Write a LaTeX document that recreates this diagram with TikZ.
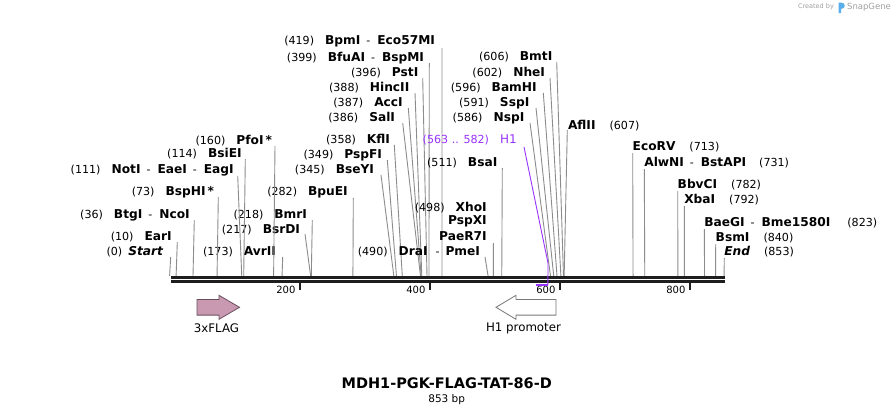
\documentclass[tikz,border=0pt]{standalone}
\usepackage{fontspec}
\setmainfont{DejaVu Sans}
\definecolor{cutgray}{RGB}{140,140,140}
\definecolor{bbk}{RGB}{30,30,30}
\definecolor{hpurple}{RGB}{153,51,255}
\definecolor{flagfill}{RGB}{201,153,178}
\definecolor{flagdraw}{RGB}{105,80,95}
\definecolor{promdraw}{RGB}{120,120,120}
\definecolor{sgblue}{RGB}{90,175,235}
\definecolor{sggray}{RGB}{160,160,160}
\newcommand\pn[1]{{\fontsize{11.1}{13}\selectfont(#1)}}
\newcommand\en[1]{{\fontsize{12.2}{14}\selectfont\bfseries #1}}
\newcommand\ds{\hspace{6pt}{\fontsize{11}{13}\selectfont-}\hspace{7pt}}
\newcommand\gp{\hspace{11pt}}
\newcommand\enzL[7]{%
 \node[lab,anchor=base east] (#1) at (#2,#3+4.2) {#4};
 \coordinate (#1-a) at (#5,#6);
 \coordinate (#1-b) at ({169.6+0.65*#7},276);
 \draw[cut] (#1-a) -- (#1-b);}
\newcommand\enzR[7]{%
 \node[lab,anchor=base west] (#1) at (#2,#3+4.2) {#4};
 \coordinate (#1-a) at (#5,#6);
 \coordinate (#1-b) at ({169.6+0.65*#7},276);
 \draw[cut] (#1-a) -- (#1-b);}
\tikzset{
 lab/.style={inner sep=0pt,outer sep=0pt,text=black},
 cut/.style={draw=cutgray,line width=0.9pt},
 bb/.style={draw=bbk,line width=2.6pt},
 tickmark/.style={draw=bbk,line width=2pt},
 ticklab/.style={inner sep=0pt,anchor=base east,font=\fontsize{10}{12}\selectfont},
 featlab/.style={inner sep=0pt,font=\fontsize{11.8}{14}\selectfont},
}
\begin{document}
\begin{tikzpicture}[x=1pt,y=-1pt]
\fill[white] (0,0) rectangle (896,415);
\useasboundingbox (0,0) rectangle (896,415);
% SnapGene mark
\node[inner sep=0pt,text=sggray,font=\fontsize{6.5}{8}\selectfont] (cby) at (816,7) {Created by};
\fill[sgblue] (838.5,2.5) rectangle (841,13) (841,2.5) .. controls (846,2.5) and (846,9) .. (841,9) -- cycle;
\node[inner sep=0pt,text=sggray,font=\fontsize{8.5}{10}\selectfont] (sg) at (869,7.5) {SnapGene};
% cut sites
\enzL{bpmi}{435}{40.7}{\pn{419}\gp\en{BpmI}\ds\en{Eco57MI}}{442}{48}{419}
\enzL{bfuai}{424}{57.3}{\pn{399}\gp\en{BfuAI}\ds\en{BspMI}}{429.3}{63}{399}
\enzL{psti}{418.3}{72.3}{\pn{396}\gp\en{PstI}}{422.7}{78}{396}
\enzL{hincii}{409.3}{87.3}{\pn{388}\gp\en{HincII}}{415}{93}{388}
\enzL{acci}{402.7}{102.3}{\pn{387}\gp\en{AccI}}{408.3}{108}{387}
\enzL{sali}{395}{117.3}{\pn{386}\gp\en{SalI}}{402.7}{123}{386}
\enzL{kfli}{390}{139}{\pn{358}\gp\en{KflI}}{394.3}{145}{358}
\enzL{pspfi}{382}{154}{\pn{349}\gp\en{PspFI}}{387.3}{160}{349}
\enzL{bseyi}{374}{169}{\pn{345}\gp\en{BseYI}}{381}{175}{345}
\enzL{bpuei}{347.7}{191.7}{\pn{282}\gp\en{BpuEI}}{353.3}{198}{282}
\enzL{bmri}{307}{214}{\pn{218}\gp\en{BmrI}}{312.3}{220}{218}
\enzL{bsrdi}{300}{229}{\pn{217}\gp\en{BsrDI}}{305}{234}{217}
\enzL{avrii}{276}{251.3}{\pn{173}\gp\en{AvrII}}{282.7}{257}{173}
\enzL{pfoi}{272}{140.7}{\pn{160}\gp\en{PfoI\,*}}{275}{146}{160}
\enzL{bsiei}{241.7}{153.3}{\pn{114}\gp\en{BsiEI}}{245.3}{159}{114}
\enzL{noti}{233.7}{169}{\pn{111}\gp\en{NotI}\ds\en{EaeI}\ds\en{EagI}}{237.7}{176}{111}
\enzL{bsphi}{214}{191.7}{\pn{73}\gp\en{BspHI\,*}}{218.3}{197}{73}
\enzL{btgi}{189.7}{214}{\pn{36}\gp\en{BtgI}\ds\en{NcoI}}{194.3}{220}{36}
\enzL{eari}{171.7}{236.7}{\pn{10}\gp\en{EarI}}{177.3}{242}{10}
\enzL{start}{163}{251.3}{\pn{0}\hspace{6pt}\en{\itshape Start}}{170.7}{257}{0}
\enzL{bsai}{497.3}{162.3}{\pn{511}\gp\en{BsaI}}{502.3}{168}{511}
\node[lab,anchor=base east] (xhoi) at (486.7,207.3+4.2) {\pn{498}\gp\en{XhoI}};
\node[lab,anchor=base east] (pspxi) at (486.7,220.7+4.2) {\en{PspXI}};
\enzL{paer}{486.7}{236.7}{\en{PaeR7I}}{493.3}{243}{498}
\enzL{drai}{480}{251.7}{\pn{490}\gp\en{DraI}\hspace{8pt}{\fontsize{11}{13}\selectfont-}\hspace{6pt}\en{PmeI}}{485}{257}{490}
\enzL{bmti}{552.3}{56}{\pn{606}\gp\en{BmtI}}{556.7}{62}{606}
\enzL{nhei}{545}{72.3}{\pn{602}\gp\en{NheI}}{550}{78}{602}
\enzL{bamhi}{536.7}{87.3}{\pn{596}\gp\en{BamHI}}{543.3}{93}{596}
\enzL{sspi}{529.3}{102.3}{\pn{591}\gp\en{SspI}}{536}{108}{591}
\enzL{nspi}{524.3}{117.3}{\pn{586}\gp\en{NspI}}{530}{123}{586}
\enzR{aflii}{568}{125}{\en{AflII}\hspace{14pt}\pn{607}}{567.3}{130}{607}
\enzR{ecorv}{632.7}{146.7}{\en{EcoRV}\hspace{14pt}\pn{713}}{632.7}{153}{713}
\enzR{alwni}{644.3}{162.3}{\en{AlwNI}\ds\en{BstAPI}\hspace{13pt}\pn{731}}{644.3}{169}{731}
\enzR{bbvci}{677.7}{184.3}{\en{BbvCI}\hspace{14pt}\pn{782}}{677.7}{191}{782}
\enzR{xbai}{684.3}{199}{\en{XbaI}\hspace{14pt}\pn{792}}{684.3}{206}{792}
\enzR{baegi}{704.3}{222.3}{\en{BaeGI}\ds\en{Bme1580I}\hspace{17pt}\pn{823}}{704.3}{229}{823}
\enzR{bsmi}{715.7}{237.3}{\en{BsmI}\hspace{14pt}\pn{840}}{715.7}{244}{840}
\enzR{endx}{724.3}{251.7}{\en{\itshape End}\hspace{14pt}\pn{853}}{724.3}{258}{853}
% backbone
\coordinate (bbL) at (171,279.3);
\coordinate (bbR) at (725,279.3);
\draw[bb] ([yshift=2pt]bbL) -- ([yshift=2pt]bbR);
\draw[bb] ([yshift=-2pt]bbL) -- ([yshift=-2pt]bbR);
% ticks
\foreach \p in {200,400,600,800}{
 \draw[tickmark] ({169.6+0.65*\p},282) -- ({169.6+0.65*\p},289.5);
 \node[ticklab] at ({169.6+0.65*\p-4},293.5) {\p};
}
% H1 feature
\node[lab,text=hpurple,anchor=base east] (h1) at (516.7,139+4.2) {{\fontsize{11.1}{13}\selectfont(563 .. 582)}\gp{\fontsize{12}{14}\selectfont H1}};
\coordinate (h1-a) at (524,147);
\coordinate (h1-k) at (548,263);
\coordinate (h1-c) at ({169.6+0.65*582},285);
\coordinate (h1-d) at ({169.6+0.65*563},285);
\draw[hpurple,line width=0.9pt] (h1-a) -- (h1-k) -- (h1-c);
\draw[hpurple,line width=2pt] (h1-d) -- (h1-c);
% features
\draw[fill=flagfill,draw=flagdraw,line width=0.8pt] (197,299.5) -- (219,299.5) -- (219,295.3) -- (239.5,307.3) -- (219,319.3) -- (219,315.1) -- (197,315.1) -- cycle;
\node[featlab] (flag) at (216.5,328.5) {3xFLAG};
\draw[fill=white,draw=promdraw,line width=0.8pt] (556,299.5) -- (516,299.5) -- (516,295.3) -- (496,307.3) -- (516,319.3) -- (516,315.1) -- (556,315.1) -- cycle;
\node[featlab] (h1p) at (523.5,328.5) {H1 promoter};
% title
\node[inner sep=0pt,font=\fontsize{14.5}{17}\selectfont\bfseries] (title) at (446.7,383.3) {MDH1-PGK-FLAG-TAT-86-D};
\node[inner sep=0pt,font=\fontsize{10.5}{12}\selectfont] (bp) at (446.7,399.5) {853 bp};
\end{tikzpicture}
\end{document}
